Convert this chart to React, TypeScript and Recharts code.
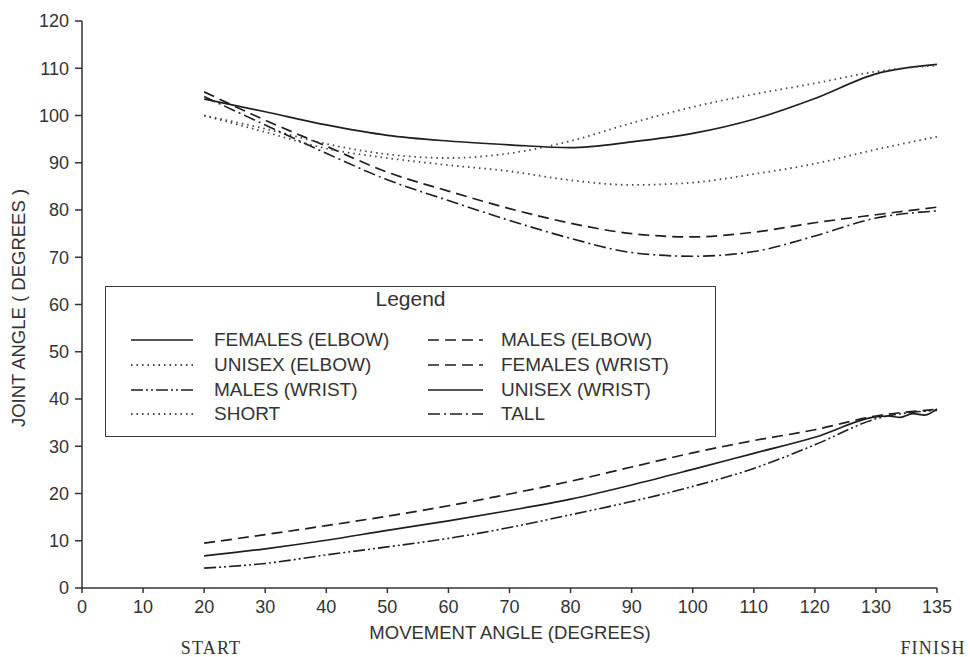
import React from 'react';
import { LineChart, Line, XAxis, YAxis, Legend, Customized } from 'recharts';

// Movement angles (degrees) at which the joint angles were sampled
const ANGLES = [20, 30, 40, 50, 60, 70, 80, 90, 100, 110, 120, 130, 135];

// Axis tick labels: evenly spaced slots, the last slot is the 135° finish position
const X_TICK_LABELS = ['0', '10', '20', '30', '40', '50', '60', '70', '80', '90', '100', '110', '120', '130', '135'];
const Y_TICKS = [0, 10, 20, 30, 40, 50, 60, 70, 80, 90, 100, 110, 120];

// Elbow joint angles (degrees)
const FEMALES_ELBOW = [103.5, 100.8, 98, 95.8, 94.6, 93.8, 93.2, 94.4, 96.2, 99.2, 103.6, 108.8, 110.8];
const MALES_ELBOW = [105, 99, 93.5, 88, 84, 80.3, 77.2, 75, 74.3, 75.3, 77.3, 79, 80.6];
const UNISEX_ELBOW = [100, 96.5, 93, 91, 89.5, 88.2, 86.3, 85.3, 85.8, 87.6, 89.8, 92.8, 95.5];
const SHORT = [100, 97.2, 94, 91.8, 91, 92, 94.6, 98.4, 101.8, 104.5, 106.8, 109.3, 110.6];
const TALL = [104, 98, 92, 86.4, 82, 77.8, 74, 71, 70.2, 71.2, 74.5, 78.3, 79.8];

// Wrist joint angles (degrees)
const FEMALES_WRIST = [9.5, 11.3, 13.2, 15.2, 17.4, 19.9, 22.6, 25.6, 28.6, 31.2, 33.5, 36.4, 37.8];
const UNISEX_WRIST = [6.8, 8.3, 10.1, 12.2, 14.2, 16.4, 18.8, 21.8, 25.1, 28.5, 31.9, 36.2, 37.9];
const MALES_WRIST = [4.2, 5.2, 7, 8.7, 10.5, 12.8, 15.5, 18.3, 21.5, 25.3, 30.3, 35.8, 37.6];

// Ragged end of the unisex wrist trace between 130° and 135°
const UNISEX_WRIST_TAIL_ANGLES = [131, 132, 133, 134];
const UNISEX_WRIST_TAIL = [36.4, 36.1, 36.9, 36.6];

const FONT = '"Liberation Sans", Arial, Helvetica, sans-serif';
const SERIF = '"Liberation Serif", "Times New Roman", serif';
const INK = '#1e1e1e';
const TEXT = '#333';

// Position of an angle on the evenly spaced axis slots (130 -> 135 occupies one slot)
const toSlot = (angle: number) => (angle <= 130 ? angle / 10 : 13 + (angle - 130) / 5);

type SeriesDef = {
  key: string;
  name: string;
  values: number[];
  dash?: string;
  width: number;
  color: string;
};

const SERIES: SeriesDef[] = [
  { key: 'femalesElbow', name: 'FEMALES (ELBOW)', values: FEMALES_ELBOW, width: 1.7, color: INK },
  { key: 'malesElbow', name: 'MALES (ELBOW)', values: MALES_ELBOW, dash: '11 6', width: 1.7, color: INK },
  { key: 'unisexElbow', name: 'UNISEX (ELBOW)', values: UNISEX_ELBOW, dash: '1.5 4', width: 1.8, color: '#444' },
  { key: 'femalesWrist', name: 'FEMALES (WRIST)', values: FEMALES_WRIST, dash: '11 6', width: 1.7, color: INK },
  { key: 'malesWrist', name: 'MALES (WRIST)', values: MALES_WRIST, dash: '12 3 2 3 2 3', width: 1.6, color: INK },
  { key: 'unisexWrist', name: 'UNISEX (WRIST)', values: UNISEX_WRIST, width: 1.7, color: INK },
  { key: 'short', name: 'SHORT', values: SHORT, dash: '1.5 4', width: 1.8, color: '#444' },
  { key: 'tall', name: 'TALL', values: TALL, dash: '12 4 2 4', width: 1.6, color: INK },
];

type Row = { slot: number; [k: string]: number | undefined };

const rows: Row[] = ANGLES.map((a, i) => {
  const row: Row = { slot: toSlot(a) };
  SERIES.forEach((s) => {
    row[s.key] = s.values[i];
  });
  return row;
});
UNISEX_WRIST_TAIL_ANGLES.forEach((a, i) => {
  rows.push({ slot: toSlot(a), unisexWrist: UNISEX_WRIST_TAIL[i] });
});
rows.sort((p, q) => p.slot - q.slot);

const LEGEND_LEFT = 105;
const LEGEND_TOP = 286;
const LEGEND_W = 611;
const LEGEND_H = 151;
const ROW_Y = [53, 78, 103, 127];

function Sample({ s, width }: { s: SeriesDef; width: number }) {
  return (
    <svg width={width} height={8} style={{ display: 'block' }}>
      <line x1={0} y1={4} x2={width} y2={4} stroke={s.color} strokeWidth={s.width} strokeDasharray={s.dash} />
    </svg>
  );
}

function LegendBox() {
  return (
    <div
      style={{
        position: 'relative',
        width: LEGEND_W,
        height: LEGEND_H,
        border: '1.3px solid #3a3a3a',
        boxSizing: 'border-box',
        background: '#fff',
        fontFamily: FONT,
        color: TEXT,
      }}
    >
      <div style={{ position: 'absolute', left: 0, right: 0, top: 0, textAlign: 'center', fontSize: 21, lineHeight: '24px' }}>
        Legend
      </div>
      {SERIES.map((s, i) => {
        const col = i % 2;
        const r = Math.floor(i / 2);
        const sampleX = col === 0 ? 25 : 322;
        const sampleW = col === 0 ? 62 : 55;
        const textX = col === 0 ? 108 : 395;
        return (
          <React.Fragment key={s.key}>
            <div style={{ position: 'absolute', left: sampleX, top: ROW_Y[r] - 4 }}>
              <Sample s={s} width={sampleW} />
            </div>
            <div
              style={{
                position: 'absolute',
                left: textX,
                top: ROW_Y[r] - 11,
                fontSize: 19,
                lineHeight: '22px',
                whiteSpace: 'nowrap',
              }}
            >
              {s.name}
            </div>
          </React.Fragment>
        );
      })}
    </div>
  );
}

function Annotations() {
  return (
    <g fontFamily={FONT} fill={TEXT}>
      <text x={18} y={308} fontSize={18.5} textAnchor="middle" dominantBaseline="central" transform="rotate(-90 18 308)">
        JOINT ANGLE ( DEGREES )
      </text>
      <text x={510} y={632} fontSize={18.5} textAnchor="middle" dominantBaseline="central">
        MOVEMENT ANGLE (DEGREES)
      </text>
      <text x={211} y={648} fontSize={18} fontFamily={SERIF} letterSpacing={1.2} textAnchor="middle" dominantBaseline="central">
        START
      </text>
      <text x={933} y={648} fontSize={18} fontFamily={SERIF} letterSpacing={1.2} textAnchor="middle" dominantBaseline="central">
        FINISH
      </text>
    </g>
  );
}

export default function App() {
  const slots = X_TICK_LABELS.map((_, i) => i);
  return (
    <div style={{ position: 'absolute', left: 0, top: 0, width: 970, height: 657, background: '#fff' }}>
      <LineChart width={970} height={657} data={rows} margin={{ top: 21, right: 33, bottom: 9, left: 2 }}>
        <XAxis
          type="number"
          dataKey="slot"
          domain={[0, 14]}
          ticks={slots}
          allowDecimals={false}
          interval={0}
          tickFormatter={(v: number) => X_TICK_LABELS[v]}
          tickSize={5}
          tickMargin={7}
          stroke="#333"
          strokeWidth={1.5}
          tick={{ fontFamily: FONT, fontSize: 18, fill: TEXT }}
          height={60}
        />
        <YAxis
          type="number"
          domain={[0, 120]}
          ticks={Y_TICKS}
          interval={0}
          width={80}
          tickSize={7}
          tickMargin={6}
          stroke="#333"
          strokeWidth={1.5}
          tick={{ fontFamily: FONT, fontSize: 18, fill: TEXT }}
        />
        {SERIES.map((s) => (
          <Line
            key={s.key}
            dataKey={s.key}
            name={s.name}
            type="monotone"
            stroke={s.color}
            strokeWidth={s.width}
            strokeDasharray={s.dash}
            dot={false}
            activeDot={false}
            connectNulls
            isAnimationActive={false}
          />
        ))}
        <Legend
          layout="vertical"
          align="center"
          verticalAlign="middle"
          content={() => <LegendBox />}
          wrapperStyle={{ left: LEGEND_LEFT, top: LEGEND_TOP, width: LEGEND_W, height: LEGEND_H }}
        />
        <Customized component={Annotations} />
      </LineChart>
    </div>
  );
}
